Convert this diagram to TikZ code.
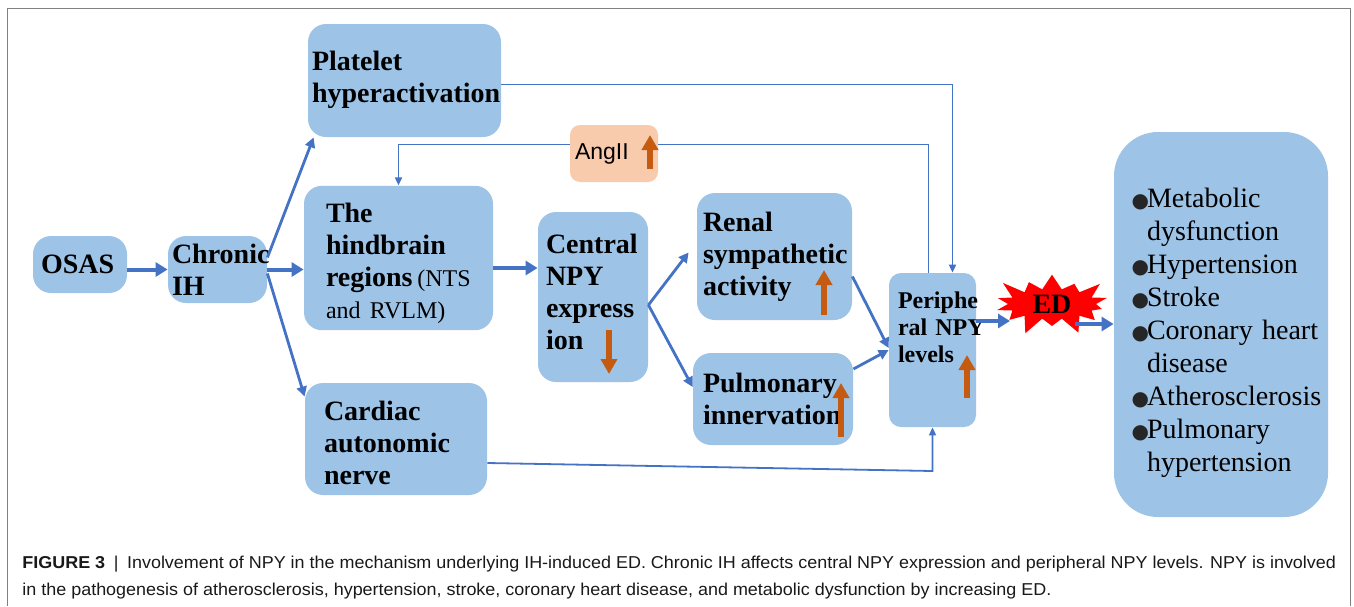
\documentclass[tikz,border=0pt]{standalone}
\usepackage{fontspec}
\setmainfont{Liberation Serif}
\setsansfont{Liberation Sans}
\newfontfamily\capfont[FakeStretch=1.044]{Liberation Sans}
\newfontfamily\symfont{DejaVu Sans}
\usetikzlibrary{arrows.meta}
\usetikzlibrary{shapes.symbols}

\definecolor{boxblue}{HTML}{9DC3E6}
\definecolor{linkblue}{HTML}{4472C4}
\definecolor{uporange}{HTML}{C55A11}
\definecolor{peach}{HTML}{F8CBAD}
\definecolor{framegray}{HTML}{808080}

\hyphenpenalty=10000
\newcommand{\blob}{\makebox[6.5pt][l]{\color{black!85}\symfont\fontsize{10}{10}\selectfont\hspace*{-1.2pt}●}}
\newcommand{\noblob}{\hspace*{6.5pt}}

\tikzset{
  stage/.style={rectangle, rounded corners=9pt, fill=boxblue, align=left,
    font=\bfseries\fontsize{14}{16}\selectfont},
  bigarrow/.style={linkblue, line width=2pt, -{Triangle[length=6pt,width=7pt]}},
  midarrow/.style={linkblue, line width=1.4pt, -{Triangle[length=5pt,width=5pt]}},
  thinlink/.style={linkblue, line width=0.9pt},
  thintip/.style={-{Triangle[length=4pt,width=3.5pt]}},
  upmark/.style={uporange, line width=3pt, -{Triangle[length=7.5pt,width=8pt]}}
}

\begin{document}
\begin{tikzpicture}[x=0.5pt,y=-0.5pt]
\useasboundingbox (0,0) rectangle (1354,606);

% frame
\draw[framegray, line width=0.5pt] (7,606) |- (1350,8) -- (1350,606);

% boxes
\node[stage, minimum width=47pt, minimum height=28.5pt, inner xsep=4pt, text width=39pt] (osas) at (80,264.5) {OSAS};
\node[stage, minimum width=49.5pt, minimum height=33.5pt, inner xsep=2pt, text width=45.5pt] (chronic) at (217.5,269.5) {Chronic\\IH};
\node[stage, minimum width=96.5pt, minimum height=56.5pt, inner xsep=2pt, text width=92.5pt] (plate) at (404.5,80.5) {Platelet\\hyperactivation\rule[-4pt]{0pt}{4pt}};
\node[stage, fill=peach, rounded corners=5pt, minimum width=44pt, minimum height=28.5pt, inner xsep=2.5pt, text width=39pt,
  font=\sffamily\fontsize{11.5}{14}\selectfont] (angii) at (614,153.5) {AngII};
\node[stage, minimum width=94.5pt, minimum height=67pt, inner xsep=11pt, text width=72.5pt] (hind) at (398.5,258)
  {\rule{0pt}{15pt}The\\hindbrain\\regions\,{\mdseries\fontsize{12}{16}\selectfont(NTS}\\{\mdseries\fontsize{12}{16}\selectfont and RVLM)}};
\node[stage, minimum width=55pt, minimum height=85pt, inner xsep=4pt, text width=47pt] (central) at (593,297)
  {Central\\NPY\\express\\ion\rule[-5pt]{0pt}{5pt}};
\node[stage, minimum width=77.5pt, minimum height=63.5pt, inner xsep=3pt, text width=71.5pt] (renal) at (774.5,256.5)
  {Renal\\sympathetic\\activity};
\node[stage, minimum width=80pt, minimum height=46pt, inner xsep=5pt, text width=70pt] (pulm) at (773,399)
  {Pulmonary\\innervation};
\node[stage, minimum width=91pt, minimum height=56pt, inner xsep=9.5pt, text width=72pt] (cardiac) at (396,439)
  {\rule{0pt}{14pt}Cardiac\\autonomic\\nerve};
\node[stage, rounded corners=6pt, minimum width=43.5pt, minimum height=77pt, inner xsep=4.5pt, text width=34.5pt,
  font=\bfseries\fontsize{12}{13.5}\selectfont] (periph) at (932.5,350)
  {Periphe\\ral~NPY\\levels\rule[-23pt]{0pt}{23pt}};
\node[stage, rounded corners=22pt, minimum width=107pt, minimum height=192.5pt, inner xsep=10pt, text width=87pt,
  font=\mdseries\fontsize{14}{16.5}\selectfont] (bigbox) at (1221,324.5)
  {\rule{0pt}{18pt}\blob Metabolic\\\noblob dysfunction\\\blob Hypertension\\\blob Stroke\\\blob Coronary~heart\\\noblob disease\\\blob Atherosclerosis\\\blob Pulmonary\\\noblob hypertension};

\node[starburst, fill=red, starburst points=14, starburst point height=10pt, minimum width=64pt, minimum height=35pt,
  inner sep=0pt, font=\bfseries\fontsize{14}{16}\selectfont] (ed) at (1052,304) {ED};

% up / down marks
\draw[upmark] (650,169) -- (650,135);
\draw[upmark] (609,330) -- (609,374);
\draw[upmark] (824,315) -- (824,270);
\draw[upmark] (841,437) -- (841,383);
\draw[upmark] (967,398) -- (967,355);

% main links
\coordinate (edin) at (1010,321);
\coordinate (edout) at (1075,324);
\draw[bigarrow] (osas.east |- chronic) -- (chronic);
\draw[bigarrow] (chronic.east) -- (hind.west |- chronic.east);
\draw[bigarrow] (hind.east |- 0,268) -- (central.west |- 0,268);
\draw[bigarrow] (periph.east |- edin) -- (edin);
\draw[bigarrow] (edout) -- (bigbox.west |- edout);

\draw[midarrow] ([yshift=6pt]chronic.east) -- ([xshift=3pt]plate.south west);
\draw[midarrow] ([yshift=-2pt]chronic.east) -- ([yshift=-7pt]cardiac.north west);
\draw[midarrow] ([yshift=-4pt]central.east) -- ([xshift=-4pt,yshift=2pt]renal.west);
\draw[midarrow] ([yshift=-4pt]central.east) -- ([yshift=6pt]pulm.west);
\draw[midarrow] ([yshift=-10pt]renal.east) -- ([yshift=1pt]periph.west);
\draw[midarrow] ([yshift=15pt]pulm.east) -- (periph.west);

% long thin links
\draw[thinlink, thintip] ([yshift=-2pt]plate.east) -| ([xshift=10pt]periph.north);
\draw[thinlink] ([xshift=-2pt]periph.north) |- ([yshift=4.5pt]angii.east);
\draw[thinlink, thintip] ([yshift=4.5pt]angii.west) -| (hind.north);
\draw[thinlink, thintip] ([yshift=-12pt]cardiac.east) -- (periph.south |- 0,471) -- (periph.south);

% caption
\node[anchor=north west, align=left, inner sep=0pt, text=black!90,
  font=\capfont\fontsize{8.6}{13.3}\selectfont] (caption) at (22,556)
  {{\bfseries FIGURE 3}\enspace|\enspace Involvement of NPY in the mechanism underlying IH-induced ED. Chronic IH affects central NPY expression and peripheral NPY levels. NPY is involved\\
   in the pathogenesis of atherosclerosis, hypertension, stroke, coronary heart disease, and metabolic dysfunction by increasing ED.};
\end{tikzpicture}
\end{document}
